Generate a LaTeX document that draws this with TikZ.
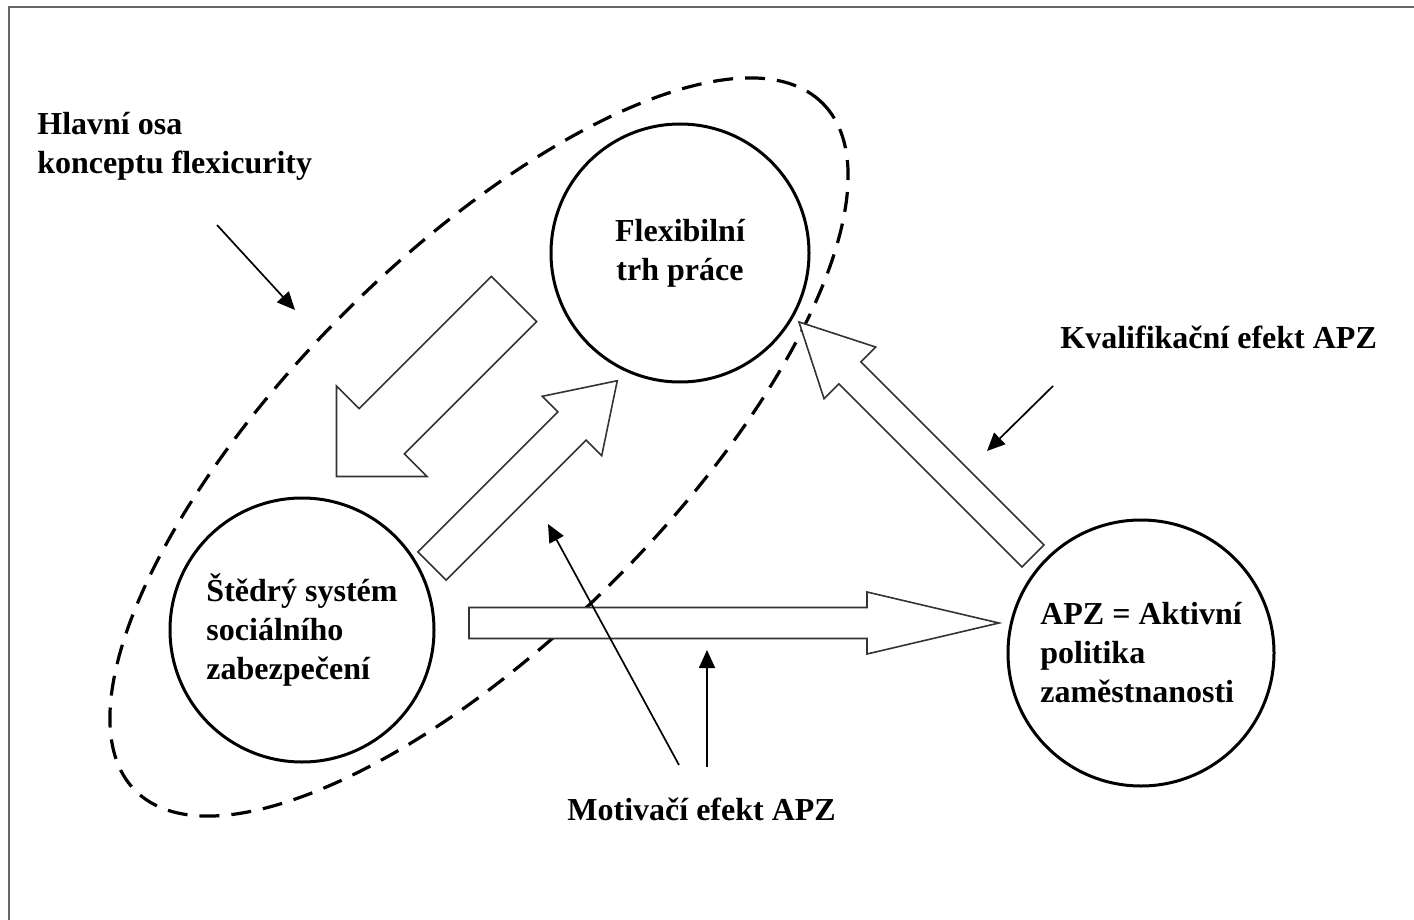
\documentclass[tikz,border=0pt]{standalone}
\usepackage{fontspec}
\setmainfont{Liberation Serif}
\usetikzlibrary{arrows.meta}

\begin{document}
\begin{tikzpicture}[x=0.5pt,y=-0.5pt,font=\fontsize{16}{19.5}\selectfont\bfseries]
    \tikzstyle{circ} = [circle,draw=black,line width=1.5pt,inner sep=0pt]
    \tikzstyle{note} = [inner sep=0pt]
    \tikzstyle{hollow} = [draw=black!80,line width=0.8pt,fill=white]
    \tikzstyle{pointer} = [-{Triangle[length=9pt,width=8pt]},line width=0.85pt]
    \useasboundingbox (0,0) rectangle (1414,920);
    \draw [black!60,line width=1pt] (9,920) -- (9,7) -- (1414,7);
    \draw [line width=1.6pt,dash pattern=on 10pt off 6pt,rotate around={45:(479,447)}] (479,447) ellipse [x radius=243pt,y radius=95pt];
    \node (flex)[circ,minimum size=129pt,align=center] at (680,253) {Flexibilní\\trh práce};
    \node (stedry)[circ,minimum size=132pt,align=left] at (302,630) {Štědrý systém\\sociálního\\zabezpečení};
    \node (apz)[circ,minimum size=133pt,align=left] at (1141,653) {APZ = Aktivní\\politika\\zaměstnanosti};
    \draw [hollow,shift={(514,299)},rotate=225] (0,32) -- (187,32) -- (187,64) -- (251,0) -- (187,-64) -- (187,-32) -- (0,-32) -- cycle;
    \draw [hollow,shift={(432,566)},rotate=45] (0,20) -- (198,20) -- (198,42) -- (262,0) -- (198,-42) -- (198,-20) -- (0,-20) -- cycle;
    \draw [hollow,shift={(469,623)}] (0,15.5) -- (398,15.5) -- (398,31) -- (530,0) -- (398,-31) -- (398,-15.5) -- (0,-15.5) -- cycle;
    \draw [hollow,shift={(1033,556)},rotate=135] (0,15.5) -- (259,15.5) -- (259,36.5) -- (331,0) -- (259,-36.5) -- (259,-15.5) -- (0,-15.5) -- cycle;
    \node (hlavni)[note,align=left,anchor=west] at (37,146) {Hlavní osa\\konceptu flexicurity};
    \node (kvalif)[note,anchor=base west] at (1060,348) {Kvalifikační efekt APZ};
    \node (motiv)[note,anchor=base west] at (567,820) {Motivačí efekt APZ};
    \coordinate (hlavnifrom) at (217,225);
    \coordinate (hlavnito) at (295,310);
    \coordinate (kvaliffrom) at (1053,386);
    \coordinate (kvalifto) at (987,451);
    \coordinate (motivfromA) at (679,765);
    \coordinate (motivtoA) at (548,524);
    \coordinate (motivfromB) at (707,767);
    \coordinate (motivtoB) at (707,650);
    \draw [pointer] (hlavnifrom) -- (hlavnito);
    \draw [pointer] (kvaliffrom) -- (kvalifto);
    \draw [pointer] (motivfromA) -- (motivtoA);
    \draw [pointer] (motivfromB) -- (motivtoB);
\end{tikzpicture}
\end{document}
